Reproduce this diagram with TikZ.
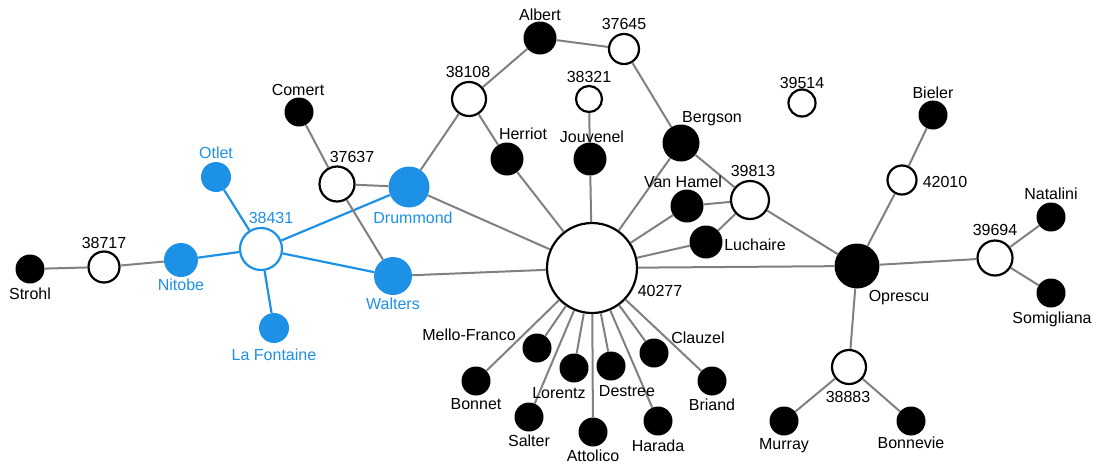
\documentclass[tikz,border=0pt]{standalone}
\usepackage{fontspec}
\setmainfont{Liberation Sans}
\usepackage{tikz}

\definecolor{linkgray}{RGB}{128,128,128}
\definecolor{netblue}{RGB}{28,145,229}

\begin{document}
\begin{tikzpicture}[
                x=1pt, y=-1pt,
                person/.style={circle, fill=black, inner sep=0pt, minimum size=#1}, % delegate
                person/.default=29pt,
                bperson/.style={person=#1, fill=netblue}, % delegate in the blue group
                bperson/.default=30pt,
                session/.style={circle, draw=black, fill=white, line width=2.2pt, inner sep=0pt, minimum size=#1}, % meeting
                bsession/.style={session=#1, draw=netblue},
                lbl/.style={anchor=base, inner sep=0pt, font=\fontsize{16pt}{19pt}\selectfont}, % name text
                blbl/.style={lbl, text=netblue},
                link/.style={draw=linkgray, line width=2pt},
                blink/.style={draw=netblue, line width=2.2pt}
                ]
                \useasboundingbox (0,0) rectangle (1097,466);

                % left group
                \node[person] (strohl) at (30,269) {};
                \node[session=31pt] (m38717) at (104,267) {};
                \node[bperson=34pt] (nitobe) at (181,260) {};
                \node[bsession=42pt] (m38431) at (261,249) {};
                \node[bperson] (otlet) at (216,177) {};
                \node[bperson] (lafontaine) at (274,328) {};
                \node[bperson=41pt] (drummond) at (409,187) {};
                \node[bperson=38pt] (walters) at (393,276) {};
                \node[session=35pt] (m37637) at (337,184) {};
                \node[person] (comert) at (299,112) {};

                % top
                \node[session=34pt] (m38108) at (469,99) {};
                \node[person=33pt] (albert) at (540,38) {};
                \node[session=30pt] (m37645) at (624,49) {};
                \node[session=26pt] (m38321) at (589,99) {};
                \node[person=33pt] (herriot) at (507,159) {};
                \node[person=33pt] (jouvenel) at (590,159) {};
                \node[person=37pt] (bergson) at (681,143) {};
                \node[person=33pt] (vanhamel) at (687,206) {};
                \node[session=38pt] (m39813) at (750,200) {};
                \node[person=33pt] (luchaire) at (706,242) {};
                \node[session=27pt] (m39514) at (802,103) {};

                % hub
                \node[session=90pt] (m40277) at (592,268) {};

                % right group
                \node[person=45pt] (oprescu) at (857,266) {};
                \node[person] (bieler) at (933,115) {};
                \node[session=29pt] (m42010) at (902,180) {};
                \node[session=35pt] (m39694) at (995,258) {};
                \node[person] (natalini) at (1051,217) {};
                \node[person] (somigliana) at (1051,293) {};
                \node[session=34pt] (m38883) at (849,367) {};
                \node[person] (murray) at (784,421) {};
                \node[person] (bonnevie) at (911,421) {};

                % below the hub
                \node[person] (mellofranco) at (537,348) {};
                \node[person] (bonnet) at (476,381) {};
                \node[person] (lorentz) at (574,368) {};
                \node[person] (destree) at (611,366) {};
                \node[person] (clauzel) at (654,353) {};
                \node[person] (briand) at (712,381) {};
                \node[person] (salter) at (529,417) {};
                \node[person] (attolico) at (593,432) {};
                \node[person] (harada) at (658,421) {};

                % links
                \draw[link] (strohl) -- (m38717);
                \draw[link] (m38717) -- (nitobe);
                \draw[blink] (nitobe) -- (m38431);
                \draw[blink] (otlet) -- (m38431);
                \draw[blink] (lafontaine) -- (m38431);
                \draw[blink] (m38431) -- (drummond);
                \draw[blink] (m38431) -- (walters);
                \draw[link] (comert) -- (m37637);
                \draw[link] (m37637) -- (drummond);
                \draw[link] (m37637) -- (walters);
                \draw[link] (drummond) -- (m38108);
                \draw[link] (m38108) -- (albert);
                \draw[link] (m38108) -- (herriot);
                \draw[link] (albert) -- (m37645);
                \draw[link] (m37645) -- (bergson);
                \draw[link] (m38321) -- (jouvenel);
                \draw[link] (bergson) -- (m39813);
                \draw[link] (vanhamel) -- (m39813);
                \draw[link] (luchaire) -- (m39813);
                \draw[link] (m39813) -- (oprescu);
                \draw[link] (oprescu) -- (m42010);
                \draw[link] (m42010) -- (bieler);
                \draw[link] (oprescu) -- (m39694);
                \draw[link] (m39694) -- (natalini);
                \draw[link] (m39694) -- (somigliana);
                \draw[link] (oprescu) -- (m38883);
                \draw[link] (m38883) -- (murray);
                \draw[link] (m38883) -- (bonnevie);
                \foreach \who in {drummond, walters, herriot, jouvenel, bergson, vanhamel, luchaire, oprescu,
                                  mellofranco, bonnet, lorentz, destree, clauzel, briand, salter, attolico, harada}
                    \draw[link] (m40277) -- (\who);

                % names
                \node[lbl] (strohl-l) at (30,299) {Strohl};
                \node[lbl] (m38717-l) at (104,248) {38717};
                \node[blbl] (nitobe-l) at (181,290) {Nitobe};
                \node[blbl] (m38431-l) at (271,223) {38431};
                \node[blbl] (otlet-l) at (216,158) {Otlet};
                \node[blbl] (lafontaine-l) at (274,360) {La Fontaine};
                \node[blbl] (walters-l) at (393,309) {Walters};
                \node[blbl] (drummond-l) at (413,223) {Drummond};
                \node[lbl] (m37637-l) at (352,162) {37637};
                \node[lbl] (comert-l) at (298,95) {Comert};
                \node[lbl] (m38108-l) at (468,77) {38108};
                \node[lbl] (albert-l) at (540,20) {Albert};
                \node[lbl] (m37645-l) at (624,29) {37645};
                \node[lbl] (m38321-l) at (589,82) {38321};
                \node[lbl] (herriot-l) at (523,139) {Herriot};
                \node[lbl] (jouvenel-l) at (592,142) {Jouvenel};
                \node[lbl] (bergson-l) at (712,122) {Bergson};
                \node[lbl] (vanhamel-l) at (683,187) {Van Hamel};
                \node[lbl] (m39813-l) at (753,176) {39813};
                \node[lbl] (luchaire-l) at (755,250) {Luchaire};
                \node[lbl] (m39514-l) at (802,88) {39514};
                \node[lbl] (bieler-l) at (933,98) {Bieler};
                \node[lbl] (m42010-l) at (945,187) {42010};
                \node[lbl] (oprescu-l) at (899,301) {Oprescu};
                \node[lbl] (m39694-l) at (995,235) {39694};
                \node[lbl] (natalini-l) at (1051,199) {Natalini};
                \node[lbl] (somigliana-l) at (1052,323) {Somigliana};
                \node[lbl] (m40277-l) at (660,296) {40277};
                \node[lbl] (m38883-l) at (848,402) {38883};
                \node[lbl] (murray-l) at (784,449) {Murray};
                \node[lbl] (bonnevie-l) at (911,448) {Bonnevie};
                \node[lbl] (mellofranco-l) at (469,340) {Mello-Franco};
                \node[lbl] (bonnet-l) at (476,409) {Bonnet};
                \node[lbl] (lorentz-l) at (559,398) {Lorentz};
                \node[lbl] (destree-l) at (627,396) {Destree};
                \node[lbl] (clauzel-l) at (698,343) {Clauzel};
                \node[lbl] (briand-l) at (712,410) {Briand};
                \node[lbl] (salter-l) at (529,446) {Salter};
                \node[lbl] (attolico-l) at (593,461) {Attolico};
                \node[lbl] (harada-l) at (658,451) {Harada};
            \end{tikzpicture}
\end{document}
